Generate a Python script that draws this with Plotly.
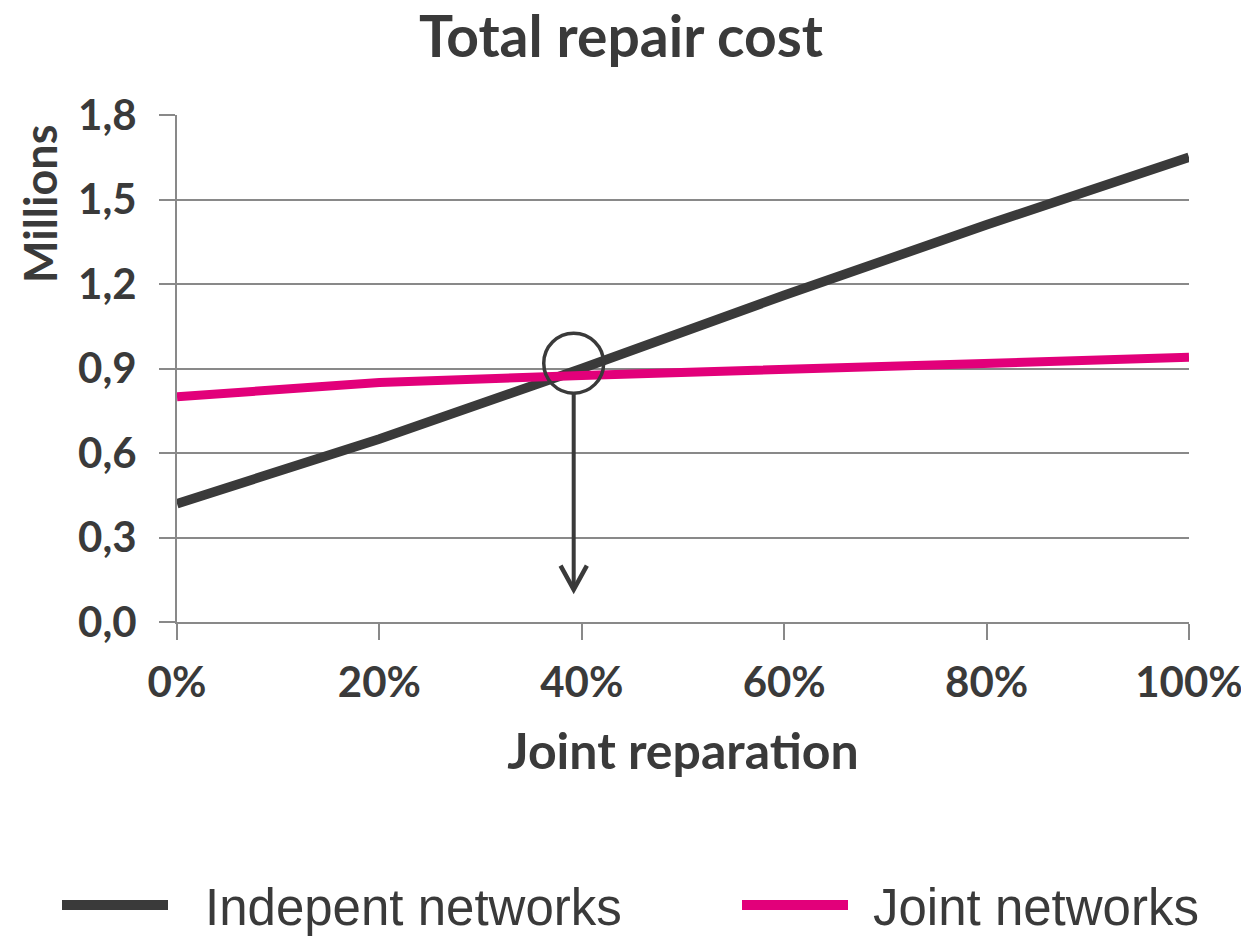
import plotly.graph_objects as go

# ---- data ----
share = [0.0, 0.2, 0.4, 0.6, 0.8, 1.0]
independent = [0.42, 0.65, 0.90, 1.16, 1.41, 1.65]
joint = [0.80, 0.85, 0.875, 0.895, 0.915, 0.94]
series_names = ["Indepent networks", "Joint networks"]
series_colors = ["#3a3a3a", "#e2007a"]
y_ticks = [0.0, 0.3, 0.6, 0.9, 1.2, 1.5, 1.8]
x_ticks = [0.0, 0.2, 0.4, 0.6, 0.8, 1.0]
crossing_x = 0.392
crossing_y = 0.919
arrow_tip_y = 0.115

title_font = "Lato"
text_color = "#3a3a3a"
grid_color = "#898989"

# figure geometry (page has an 8px body margin)
W, H = 1241, 929
PL, PR, PT, PB = 169, 1181, 107, 614  # plot area in figure pixels


def px_to_paper_x(px):
    return (px - 8 - PL) / (PR - PL)


def px_to_paper_y(py):
    return (PB - (py - 8)) / (PB - PT)


fig = go.Figure()
for name, ys, col, lw in zip(series_names, [independent, joint], series_colors, [9.5, 9]):
    fig.add_trace(go.Scatter(x=share, y=ys, mode="lines", name=name,
                             line=dict(color=col, width=lw), showlegend=False))

shapes = []
# circle around crossing
rx, ry = 0.0296, 0.1065
shapes.append(dict(type="circle", xref="x", yref="y",
                   x0=crossing_x - rx, x1=crossing_x + rx,
                   y0=crossing_y - ry, y1=crossing_y + ry,
                   line=dict(color=text_color, width=3.5)))
# arrow shaft
shapes.append(dict(type="line", xref="x", yref="y",
                   x0=crossing_x, x1=crossing_x, y0=crossing_y - ry, y1=arrow_tip_y,
                   line=dict(color=text_color, width=4)))
# arrow head (open chevron)
shapes.append(dict(type="path", xref="x", yref="y",
                   path=f"M{crossing_x-0.013},{arrow_tip_y+0.085} L{crossing_x},{arrow_tip_y} L{crossing_x+0.013},{arrow_tip_y+0.085}",
                   line=dict(color=text_color, width=4.5)))

# manual legend (page pixel positions)
leg_items = [(62, 168, 203), (742, 848, 871)]
annotations = []
for (lx0, lx1, tx), name, col in zip(leg_items, series_names, series_colors):
    shapes.append(dict(type="line", xref="paper", yref="paper",
                       x0=px_to_paper_x(lx0), x1=px_to_paper_x(lx1),
                       y0=px_to_paper_y(905), y1=px_to_paper_y(905),
                       line=dict(color=col, width=10)))
    annotations.append(dict(xref="paper", yref="paper",
                            x=px_to_paper_x(tx), y=px_to_paper_y(907),
                            xanchor="left", yanchor="middle", showarrow=False,
                            text=name,
                            font=dict(family="Liberation Sans", size=51, color=text_color)))

# y axis title
annotations.append(dict(xref="paper", yref="paper",
                        x=px_to_paper_x(40), y=px_to_paper_y(204),
                        xanchor="center", yanchor="middle", showarrow=False,
                        text="<b>Millions</b>", textangle=-90,
                        font=dict(family=title_font, size=45, color=text_color)))

fig.update_layout(
    width=W, height=H,
    margin=dict(l=PL, r=W - PR, t=PT, b=H - PB, autoexpand=False),
    paper_bgcolor="white", plot_bgcolor="white",
    separators=", ",
    showlegend=False,
    title=dict(text="<b>Total repair cost</b>", x=(621 - 8) / W,
               xanchor="center",
               y=1 - 29 / H, yanchor="middle",
               font=dict(family=title_font, size=57, color=text_color)),
    shapes=shapes, annotations=annotations,
    xaxis=dict(range=[0, 1], tickvals=x_ticks, tickformat=".0%",
               showgrid=False, zeroline=False, automargin=False,
               showline=True, linecolor=grid_color, linewidth=2,
               ticks="outside", ticklen=16, tickwidth=2, tickcolor=grid_color,
               ticklabelstandoff=7, ticklabeloverflow="allow",
               tickfont=dict(family=title_font, size=42, color=text_color, weight="bold"),
               title=dict(text="<b>Joint reparation</b>", standoff=29,
                          font=dict(family=title_font, size=50, color=text_color))),
    yaxis=dict(range=[0, 1.8], tickvals=y_ticks, tickformat=".1f",
               showgrid=True, gridcolor=grid_color, gridwidth=2, zeroline=False,
               automargin=False,
               showline=True, linecolor=grid_color, linewidth=2,
               ticks="outside", ticklen=16, tickwidth=2, tickcolor=grid_color,
               ticklabelstandoff=14,
               tickfont=dict(family=title_font, size=42, color=text_color, weight="bold")),
)

fig.write_html("out.html")
